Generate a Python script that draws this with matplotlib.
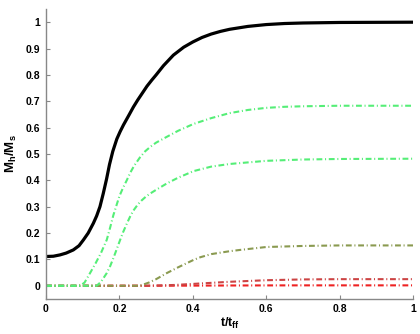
import matplotlib
matplotlib.use("Agg")
import matplotlib.pyplot as plt

plt.rcParams['font.family'] = ['Liberation Sans', 'DejaVu Sans']
plt.rcParams['font.weight'] = 'bold'
plt.rcParams['mathtext.fontset'] = 'custom'
plt.rcParams['mathtext.rm'] = 'Liberation Sans:bold'
plt.rcParams['mathtext.bf'] = 'Liberation Sans:bold'
plt.rcParams['mathtext.it'] = 'Liberation Sans:bold'

# values (t / t_ff, M_h / M_s)
t_total = [0, 0.02, 0.038, 0.055, 0.0745, 0.09, 0.102, 0.115, 0.129, 0.138, 0.147, 0.156,
           0.165, 0.173, 0.182, 0.193, 0.202, 0.211, 0.225, 0.238, 0.25, 0.263, 0.275,
           0.288, 0.30, 0.32, 0.347, 0.375, 0.40, 0.425, 0.45, 0.475, 0.50, 0.55, 0.60,
           0.65, 0.70, 0.80, 1.0]
m_total = [0.111, 0.112, 0.117, 0.124, 0.136, 0.152, 0.174, 0.20, 0.237, 0.265, 0.30, 0.35,
           0.405, 0.46, 0.51, 0.557, 0.585, 0.61, 0.645, 0.678, 0.705, 0.732, 0.757,
           0.78, 0.80, 0.835, 0.875, 0.905, 0.925, 0.942, 0.955, 0.965, 0.973, 0.984, 0.991,
           0.995, 0.997, 0.999, 1.0]

t_green1 = [0, 0.093, 0.105, 0.12, 0.135, 0.15, 0.1655, 0.175, 0.1836, 0.192, 0.20, 0.21,
            0.22, 0.23, 0.24, 0.256, 0.27, 0.285, 0.30, 0.329, 0.36, 0.402, 0.45, 0.50,
            0.55, 0.60, 0.65, 0.70, 0.80, 1.0]
m_green1 = [0, 0, 0.012, 0.048, 0.085, 0.125, 0.174, 0.222, 0.268, 0.305, 0.34, 0.372,
            0.40, 0.43, 0.455, 0.487, 0.51, 0.528, 0.543, 0.565, 0.588, 0.614, 0.636, 0.655,
            0.667, 0.675, 0.679, 0.681, 0.683, 0.683]

t_green2 = [0, 0.138, 0.15, 0.1655, 0.175, 0.185, 0.193, 0.202, 0.21, 0.22, 0.23, 0.238,
            0.25, 0.26, 0.272, 0.284, 0.30, 0.329, 0.36, 0.402, 0.45, 0.50, 0.55, 0.60,
            0.70, 0.80, 1.0]
m_green2 = [0, 0, 0.015, 0.048, 0.075, 0.11, 0.14, 0.174, 0.203, 0.235, 0.265, 0.285,
            0.308, 0.323, 0.338, 0.35, 0.364, 0.388, 0.41, 0.435, 0.452, 0.462, 0.468, 0.474,
            0.479, 0.481, 0.482]

t_olive = [0, 0.256, 0.28, 0.30, 0.329, 0.36, 0.402, 0.42, 0.45, 0.50, 0.529, 0.60, 0.70, 0.80, 1.0]
m_olive = [0, 0, 0.012, 0.025, 0.048, 0.07, 0.098, 0.108, 0.12, 0.131, 0.136, 0.147, 0.151, 0.153, 0.153]

t_red1 = [0, 0.27, 0.35, 0.40, 0.45, 0.50, 0.55, 0.60, 0.70, 0.80, 1.0]
m_red1 = [0, 0, 0.003, 0.007, 0.011, 0.015, 0.018, 0.021, 0.024, 0.025, 0.025]

t_red2 = [0, 0.30, 0.40, 0.50, 0.60, 0.70, 1.0]
m_red2 = [0, 0, 0.0005, 0.001, 0.0013, 0.0015, 0.0015]

fig = plt.figure(figsize=(4.2, 3.34), dpi=100)
ax = fig.add_axes([0.1095, 0.105, 0.874, 0.868])

dd = (2.8, 1.3, 0.5, 1.3)
ax.plot(t_red2, m_red2, color='#ee2222', lw=1.5, dashes=dd)
ax.plot(t_red1, m_red1, color='#cc4444', lw=1.5, dashes=dd)
ax.plot(t_olive, m_olive, color='#8a9a50', lw=1.5, dashes=dd)
ax.plot(t_green2, m_green2, color='#55ee77', lw=1.5, dashes=dd)
ax.plot(t_green1, m_green1, color='#55ee77', lw=1.5, dashes=dd)
ax.plot(t_total, m_total, color='black', lw=2.3, solid_joinstyle='round')

ax.set_xlim(0, 1)
ax.set_ylim(-0.05, 1.05)
ax.set_xticks([0, 0.2, 0.4, 0.6, 0.8, 1])
ax.set_xticklabels(['0', '0.2', '0.4', '0.6', '0.8', '1'])
ax.set_yticks([0, 0.1, 0.2, 0.3, 0.4, 0.5, 0.6, 0.7, 0.8, 0.9, 1])
ax.set_yticklabels(['0', '0.1', '0.2', '0.3', '0.4', '0.5', '0.6', '0.7', '0.8', '0.9', '1'])

for s in ['top', 'right']:
    ax.spines[s].set_visible(False)
for s in ['left', 'bottom']:
    ax.spines[s].set_color('#888888')
    ax.spines[s].set_linewidth(1.0)
ax.tick_params(direction='in', length=3, width=0.8, color='#888888',
               labelsize=7.5, pad=4, labelcolor='black')
for lab in ax.get_xticklabels() + ax.get_yticklabels():
    lab.set_fontweight('bold')

ax.set_xlabel(r'$\mathbf{t/t_{ff}}$', fontsize=9, labelpad=1)
ax.set_ylabel(r'$\mathbf{M_h/M_s}$', fontsize=9.5, labelpad=5)

fig.savefig('out.png', dpi=100)
